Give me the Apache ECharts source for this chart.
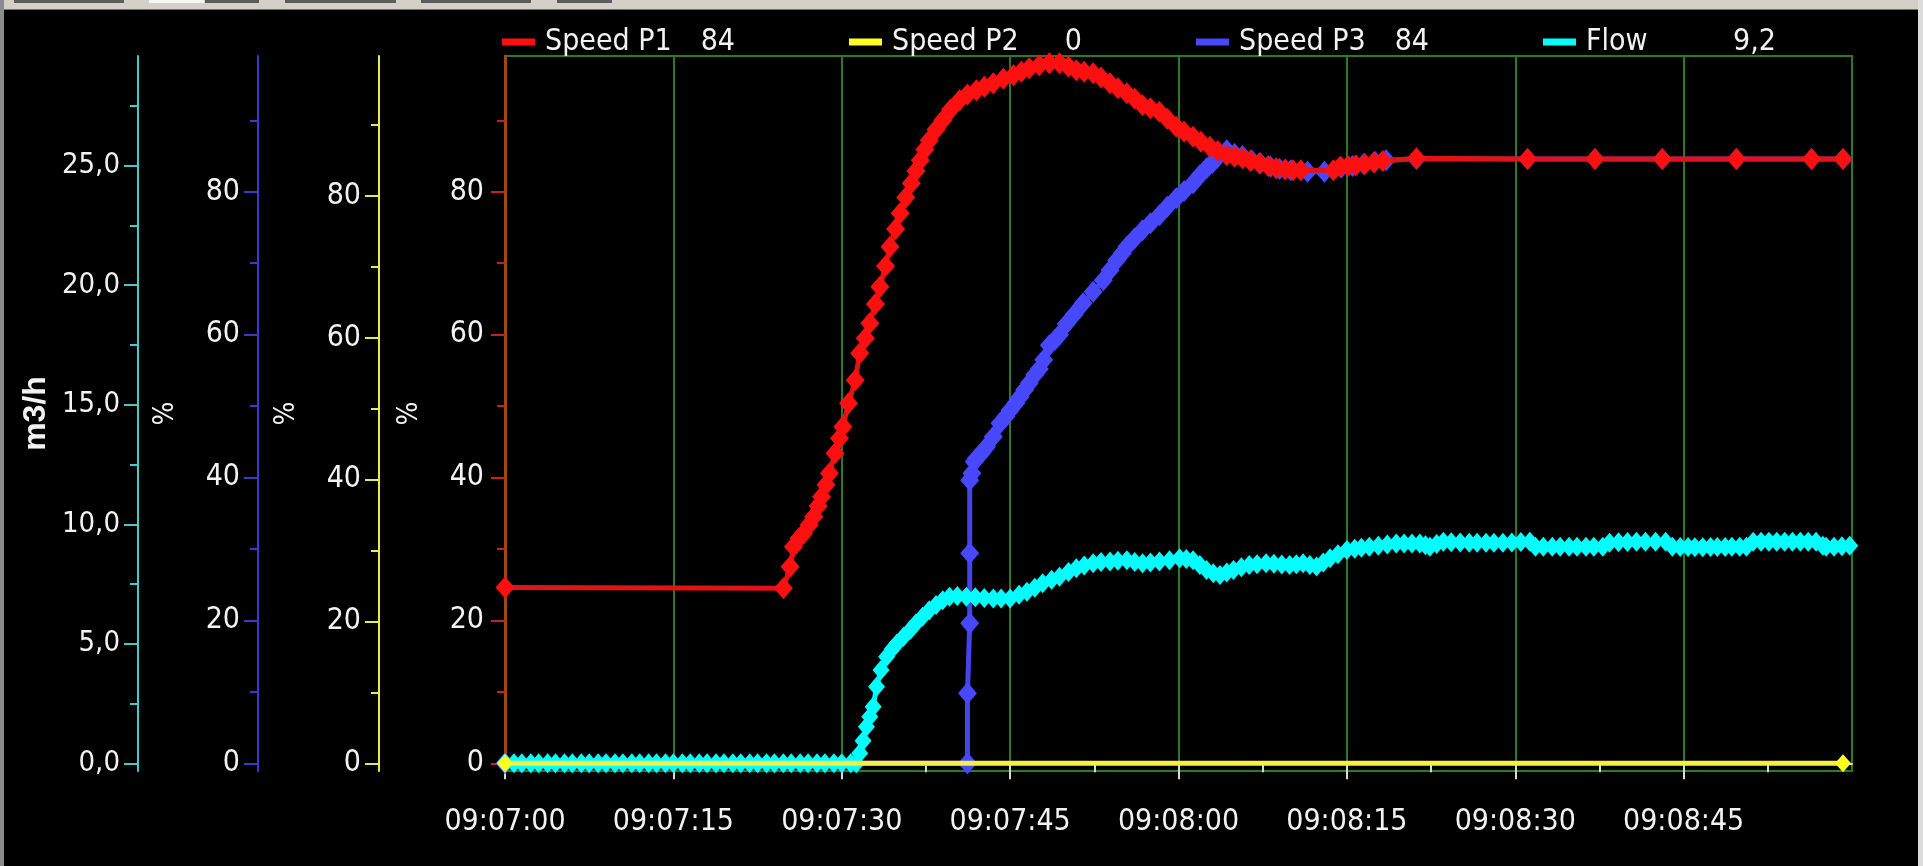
<!DOCTYPE html>
<html>
<head>
<meta charset="utf-8">
<script src="https://cdn.jsdelivr.net/npm/echarts@6/dist/echarts.min.js"></script>
<style>
html,body{margin:0;padding:0;background:#000;}
#chart{width:1923px;height:866px;}
</style>
</head>
<body>
<div id="chart"></div>
<script>
// ---------- data (time in seconds after 09:07:00) ----------
const startClock = [9, 7, 0];
const legendNames = ['Speed P1', 'Speed P2', 'Speed P3', 'Flow'];
const legendValues = ['84', '0', '84', '9,2'];

const xMajorTicks = [0, 15, 30, 45, 60, 75, 90, 105];
const xMinorTicks = [7.5, 22.5, 37.5, 52.5, 67.5, 82.5, 97.5, 112.5];
const pctMajorTicks = [0, 20, 40, 60, 80];
const pctMinorTicks = [10, 30, 50, 70, 90];
const flowMajorTicks = [0, 5, 10, 15, 20, 25];
const flowMinorTicks = [2.5, 7.5, 12.5, 17.5, 22.5, 27.5];

const p1Time = [0, 24.8, 25.4, 25.7, 26.2, 26.6, 27.1, 27.5, 27.9, 28.2, 28.6, 28.9, 29.4, 29.8, 30.1, 30.6, 31.2, 31.6, 32.1, 32.5, 33.0, 33.4, 33.9, 34.3, 34.8, 35.2, 35.7, 36.2, 36.6, 37.0, 37.4, 37.8, 38.4, 39.0, 39.7, 40.5, 41.2, 42.0, 42.7, 43.5, 44.4, 45.3, 46.0, 46.7, 47.6, 48.5, 49.4, 50.2, 50.9, 51.6, 52.4, 53.1, 53.9, 54.6, 55.4, 56.1, 56.8, 57.5, 58.3, 59.0, 59.8, 60.5, 61.3, 62.0, 62.8, 63.5, 64.3, 65.0, 65.7, 66.4, 67.2, 68.0, 68.7, 69.5, 70.2, 70.9, 73.8, 74.4, 75.1, 75.8, 76.6, 77.4, 78.2, 81.2, 91.1, 97.1, 103.1, 109.7, 116.4, 119.2];
const p1Value = [24.6, 24.5, 27.5, 30.3, 31.5, 32.2, 33.4, 34.5, 36.0, 37.3, 39.0, 40.6, 43.4, 45.5, 47.1, 50.4, 53.6, 57.4, 59.5, 61.6, 64.3, 66.7, 69.6, 72.3, 74.8, 77.0, 79.2, 81.2, 82.9, 84.4, 85.9, 87.2, 88.7, 90.0, 91.5, 92.8, 93.6, 94.2, 94.7, 95.2, 95.8, 96.3, 96.8, 97.3, 97.7, 98.0, 98.0, 97.5, 97.0, 96.8, 96.6, 96.0, 95.2, 94.5, 93.8, 93.0, 92.1, 91.7, 91.2, 90.2, 89.1, 88.4, 87.7, 87.0, 86.3, 85.7, 85.1, 84.9, 84.7, 84.3, 84.0, 83.6, 83.3, 83.1, 83.0, 83.0, 83.0, 83.5, 83.6, 83.7, 83.9, 84.1, 84.3, 84.7, 84.6, 84.6, 84.6, 84.6, 84.6, 84.6];

const p2Time = [0, 119.2];
const p2Value = [0, 0];

const p3Time = [0, 41.2, 41.2, 41.4, 41.4, 41.4, 41.6, 41.8, 42.0, 42.5, 42.9, 43.5, 44.1, 44.6, 45.0, 45.5, 45.9, 46.3, 46.7, 47.2, 47.6, 48.0, 48.5, 49.0, 49.4, 50.0, 50.7, 51.5, 52.4, 53.3, 53.9, 54.5, 55.0, 55.4, 56.1, 56.8, 57.5, 58.3, 59.0, 59.8, 60.5, 61.3, 61.9, 62.5, 63.0, 63.4, 64.3, 65.0, 65.7, 66.5, 67.3, 68.2, 69.0, 70.0, 71.5, 73.0, 74.5, 75.5, 76.5, 77.5, 78.5, 81.2, 91.1, 97.1, 103.1, 109.7, 116.4, 119.2];
const p3Value = [0, 0, 9.8, 19.6, 29.4, 39.6, 40.6, 42.2, 42.7, 43.5, 44.3, 45.7, 47.6, 48.5, 49.4, 50.4, 51.3, 52.3, 53.2, 54.4, 55.2, 56.5, 58.5, 59.3, 60.0, 61.5, 62.8, 64.4, 66.0, 67.6, 69.0, 70.4, 71.4, 72.3, 73.5, 74.6, 75.6, 76.7, 77.9, 79.1, 80.1, 81.2, 82.3, 83.3, 84.0, 84.7, 85.8, 85.3, 85.0, 84.4, 84.0, 83.5, 83.2, 83.0, 82.8, 82.8, 83.4, 83.6, 83.9, 84.2, 84.4, 84.6, 84.6, 84.6, 84.6, 84.6, 84.6, 84.6];

const flowTime = [0.0, 0.8, 1.5, 2.3, 3.0, 3.8, 4.5, 5.3, 6.0, 6.8, 7.5, 8.3, 9.0, 9.8, 10.5, 11.3, 12.0, 12.8, 13.5, 14.3, 15.0, 15.8, 16.5, 17.3, 18.0, 18.8, 19.5, 20.3, 21.0, 21.8, 22.5, 23.3, 24.0, 24.8, 25.5, 26.3, 27.0, 27.8, 28.5, 29.3, 30.0, 30.8, 31.3,
  31.6, 31.9, 32.2, 32.5, 32.8, 33.1, 33.5, 34.0, 34.5, 34.9, 35.5, 36.1, 36.6, 37.2, 37.8, 38.4, 39.0, 39.6, 40.3, 41.1, 41.9, 42.7, 43.5, 44.2, 45.0, 45.8, 46.5, 47.2, 47.9, 48.7, 49.4, 50.2, 50.9, 51.6, 52.4, 53.1, 53.9, 54.6, 55.4, 56.1, 56.8, 57.5, 58.3, 59.2, 60.1, 60.7, 61.3, 61.9, 62.5, 63.1, 63.7, 64.3, 64.9, 65.6, 66.3, 67.0, 67.8, 68.5, 69.2, 69.9, 70.5, 71.1, 71.7, 72.3, 72.9, 73.5, 74.2, 75.0, 75.7, 76.3, 77.0, 77.8, 78.6, 79.4, 80.1, 80.8, 81.5, 82.0, 82.4, 83.0, 83.6, 84.3, 85.1, 85.9, 86.6, 87.4, 88.1, 88.9, 89.7, 90.5, 91.3, 91.8, 92.5, 93.3, 94.0, 94.8, 95.5, 96.3, 97.0, 97.8, 98.4, 99.2, 100.0, 100.8, 101.6, 102.5, 103.4, 104.0, 104.7, 105.4, 106.0, 106.7, 107.4, 108.0, 108.7, 109.3, 110.0, 110.6, 111.2, 111.9, 112.6, 113.3, 114.0, 114.7, 115.4, 116.1, 116.8, 117.4, 117.7, 118.4, 119.1, 119.8];
const flowValue = [0, 0, 0, 0, 0, 0, 0, 0, 0, 0, 0, 0, 0, 0, 0, 0, 0, 0, 0, 0, 0, 0, 0, 0, 0, 0, 0, 0, 0, 0, 0, 0, 0, 0, 0, 0, 0, 0, 0, 0, 0, 0, 0,
  0.42, 0.95, 1.53, 1.95, 2.37, 3.2, 3.9, 4.46, 4.78, 5.0, 5.3, 5.58, 5.85, 6.13, 6.4, 6.62, 6.82, 6.97, 7.0, 6.97, 6.95, 6.92, 6.9, 6.9, 6.9, 7.05, 7.18, 7.35, 7.53, 7.68, 7.81, 8.0, 8.16, 8.28, 8.37, 8.42, 8.44, 8.47, 8.5, 8.42, 8.37, 8.4, 8.44, 8.5, 8.58, 8.55, 8.5, 8.3, 8.09, 7.95, 7.88, 7.98, 8.09, 8.2, 8.3, 8.33, 8.37, 8.35, 8.32, 8.3, 8.33, 8.37, 8.3, 8.23, 8.4, 8.58, 8.75, 8.92, 8.98, 9.02, 9.06, 9.1, 9.15, 9.2, 9.2, 9.2, 9.2, 9.12, 9.06, 9.18, 9.27, 9.25, 9.24, 9.23, 9.23, 9.23, 9.23, 9.23, 9.24, 9.26, 9.27, 9.06, 9.06, 9.06, 9.06, 9.06, 9.06, 9.06, 9.06, 9.06, 9.23, 9.25, 9.26, 9.27, 9.27, 9.27, 9.27, 9.06, 9.05, 9.05, 9.04, 9.04, 9.05, 9.05, 9.05, 9.06, 9.06, 9.06, 9.27, 9.27, 9.27, 9.27, 9.27, 9.27, 9.27, 9.27, 9.27, 9.1, 9.06, 9.06, 9.08, 9.1];

// ---------- helpers ----------
const zip = (t, v) => t.map((x, i) => [x, v[i]]);
const pad2 = n => String(n).padStart(2, '0');
function clockLabel(sec) {
  const total = startClock[0] * 3600 + startClock[1] * 60 + startClock[2] + Math.round(sec);
  return pad2(Math.floor(total / 3600)) + ':' + pad2(Math.floor(total / 60) % 60) + ':' + pad2(total % 60);
}
const FONT = "'Liberation Sans Narrow','DejaVu Sans Condensed','Liberation Sans',sans-serif";
const TXT = '#f2f2f2';

function yPair(cfg) {
  const base = {
    type: 'value', position: 'left', offset: cfg.offset, min: cfg.min, max: cfg.max,
    splitLine: { show: false }
  };
  const main = Object.assign({}, base, {
    name: cfg.name, nameLocation: 'middle', nameRotate: 90, nameGap: cfg.nameGap, nameMoveOverlap: false,
    nameTextStyle: { color: TXT, fontSize: cfg.nameSize, fontWeight: cfg.nameWeight, fontFamily: cfg.nameFont || FONT },
    axisLine: { show: true, lineStyle: { color: cfg.lineColor, width: cfg.lineWidth || 2 } },
    axisTick: { show: true, customValues: cfg.major, length: 14, lineStyle: { color: cfg.tickColor, width: 2 } },
    axisLabel: { show: true, customValues: cfg.major, margin: 18, color: TXT, fontSize: cfg.labelSize || 30, fontFamily: FONT, formatter: cfg.fmt }
  });
  const minor = Object.assign({}, base, {
    axisLine: { show: false },
    axisTick: { show: true, customValues: cfg.minor, length: 8, lineStyle: { color: cfg.tickColor, width: 2 } },
    axisLabel: { show: false }
  });
  return [main, minor];
}

const pctFmt = v => String(Math.round(v));
const flowFmt = v => v.toFixed(1).replace('.', ',');

const yAxes = [].concat(
  yPair({ offset: 3, min: -1.08, max: 99.0, major: pctMajorTicks, minor: pctMinorTicks, lineColor: '#9a4a14', lineWidth: 3, tickColor: '#c82020', name: '%', nameGap: 78, nameSize: 28, nameWeight: 'normal', fmt: pctFmt }),
  yPair({ offset: 126, min: -1.09, max: 99.76, major: pctMajorTicks, minor: pctMinorTicks, lineColor: '#e8e850', tickColor: '#e8e850', name: '%', nameGap: 78, nameSize: 28, nameWeight: 'normal', fmt: pctFmt }),
  yPair({ offset: 247, min: -1.08, max: 99.0, major: pctMajorTicks, minor: pctMinorTicks, lineColor: '#3a3ac8', tickColor: '#3a3ac8', name: '%', nameGap: 78, nameSize: 28, nameWeight: 'normal', fmt: pctFmt }),
  yPair({ offset: 367, min: -0.32, max: 29.59, major: flowMajorTicks, minor: flowMinorTicks, lineColor: '#40cccc', tickColor: '#40cccc', name: 'm3/h', nameGap: 86, nameSize: 32, nameWeight: 'bold', nameFont: "'Liberation Sans',sans-serif", labelSize: 29, fmt: flowFmt })
);

const option = {
  backgroundColor: '#000',
  animation: false,
  textStyle: { fontFamily: FONT },
  grid: { left: 505, right: 71, top: 56, bottom: 95, show: true, borderColor: '#2a7a2a', borderWidth: 2, backgroundColor: 'transparent', containLabel: false, outerBoundsMode: 'none' },
  legend: {
    data: legendNames, left: 497, top: 22, icon: 'rect', itemWidth: 33, itemHeight: 7, itemGap: 114,
    selectedMode: false,
    formatter: name => '{n|' + name + '}{v|' + legendValues[legendNames.indexOf(name)] + '}',
    textStyle: {
      color: TXT, fontSize: 30, fontFamily: FONT,
      rich: {
        n: { width: 148, padding: [0, 0, 0, 5], color: TXT, fontSize: 30, fontFamily: FONT },
        v: { width: 42, align: 'right', color: TXT, fontSize: 30, fontFamily: FONT }
      }
    }
  },
  xAxis: [
    {
      type: 'value', min: 0, max: 120, interval: 15, position: 'bottom', offset: 12,
      axisLine: { show: true, lineStyle: { color: '#d8d8d8', width: 2 } },
      axisTick: { show: true, customValues: xMajorTicks, length: 16, lineStyle: { color: '#d8d8d8', width: 2 } },
      axisLabel: { show: true, customValues: xMajorTicks, margin: 24, color: TXT, fontSize: 30, fontFamily: FONT, formatter: v => clockLabel(v) },
      splitLine: { show: true, lineStyle: { color: '#2a7a2a', width: 2 } }
    },
    {
      type: 'value', min: 0, max: 120, position: 'bottom', offset: 12,
      axisLine: { show: false },
      axisTick: { show: true, customValues: xMinorTicks, length: 9, lineStyle: { color: '#d8d8d8', width: 2 } },
      axisLabel: { show: false },
      splitLine: { show: false }
    }
  ],
  yAxis: yAxes,
  series: [
    { name: 'Speed P3', type: 'line', xAxisIndex: 0, yAxisIndex: 4, data: zip(p3Time, p3Value), symbol: 'diamond', symbolSize: [19, 22], itemStyle: { color: '#4848ff' }, lineStyle: { color: '#4444e8', width: 5 }, z: 2 },
    { name: 'Flow', type: 'line', xAxisIndex: 0, yAxisIndex: 6, data: zip(flowTime, flowValue), symbol: 'diamond', symbolSize: [17, 20], itemStyle: { color: '#00ffff' }, lineStyle: { color: '#00f4f4', width: 5 }, z: 3 },
    { name: 'Speed P2', type: 'line', xAxisIndex: 0, yAxisIndex: 2, data: zip(p2Time, p2Value), symbol: 'diamond', symbolSize: [16, 18], itemStyle: { color: '#ffff20' }, lineStyle: { color: '#f2f246', width: 5 }, z: 4 },
    { name: 'Speed P1', type: 'line', xAxisIndex: 0, yAxisIndex: 0, data: zip(p1Time, p1Value), symbol: 'diamond', symbolSize: [19, 22], itemStyle: { color: '#ff1010' }, lineStyle: { color: '#e01414', width: 5 }, z: 5 }
  ],
  graphic: [
    { type: 'rect', silent: true, z: 100, shape: { x: 0, y: 0, width: 1923, height: 9 }, style: { fill: '#d4d0c8' } },
    { type: 'rect', silent: true, z: 100, shape: { x: 0, y: 9, width: 1923, height: 1 }, style: { fill: '#707070' } },
    { type: 'rect', silent: true, z: 101, shape: { x: 14, y: 0, width: 110, height: 3 }, style: { fill: '#5c5c5c' } },
    { type: 'rect', silent: true, z: 101, shape: { x: 149, y: 0, width: 55, height: 3 }, style: { fill: '#f6f6f2' } },
    { type: 'rect', silent: true, z: 101, shape: { x: 205, y: 0, width: 54, height: 3 }, style: { fill: '#5c5c5c' } },
    { type: 'rect', silent: true, z: 101, shape: { x: 285, y: 0, width: 111, height: 3 }, style: { fill: '#5c5c5c' } },
    { type: 'rect', silent: true, z: 101, shape: { x: 421, y: 0, width: 110, height: 3 }, style: { fill: '#5c5c5c' } },
    { type: 'rect', silent: true, z: 101, shape: { x: 557, y: 0, width: 55, height: 3 }, style: { fill: '#5c5c5c' } },
    { type: 'rect', silent: true, z: 100, shape: { x: 0, y: 0, width: 4, height: 866 }, style: { fill: '#8c8c8c' } },
    { type: 'rect', silent: true, z: 100, shape: { x: 1918, y: 0, width: 5, height: 866 }, style: { fill: '#dcdcdc' } }
  ]
};

const chart = echarts.init(document.getElementById('chart'), null, { renderer: 'canvas' });
chart.setOption(option);
</script>
</body>
</html>
